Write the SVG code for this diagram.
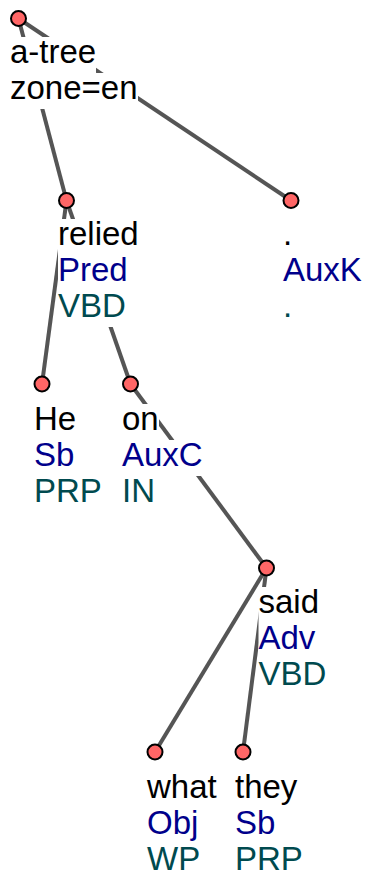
<svg xmlns="http://www.w3.org/2000/svg" width="368" height="878" viewBox="0 0 368 878">
<style>
.e{stroke:#555555;stroke-width:4;fill:none}
.n{fill:#ff6666;stroke:#000;stroke-width:2}
.bg{fill:#fff;stroke:none}
text{font-family:"Liberation Sans",Arial,sans-serif;font-size:33px}
.f{fill:#000}
.a{fill:#00008b}
.t{fill:#004a4f}
</style>
<rect width="368" height="878" fill="#fff"/>
<g id="connectors">
<line class="e" x1="18.5" y1="18.5" x2="66.5" y2="200.5"/>
<line class="e" x1="18.5" y1="18.5" x2="291" y2="200.5"/>
<line class="e" x1="66.5" y1="200.5" x2="42" y2="384"/>
<line class="e" x1="66.5" y1="200.5" x2="130.5" y2="384"/>
<line class="e" x1="130.5" y1="384" x2="266.5" y2="568"/>
<line class="e" x1="266.5" y1="568" x2="155" y2="752"/>
<line class="e" x1="266.5" y1="568" x2="243" y2="752"/>
</g>
<g id="n-root">
<rect class="bg" x="10" y="37" width="86" height="36"/>
<rect class="bg" x="10" y="73" width="128" height="36"/>
<text x="10" y="63" class="f">a-tree</text>
<text x="10" y="99" class="f">zone=en</text>
<circle class="n" cx="18.5" cy="18.5" r="7.5"/>
</g>
<g id="n-relied">
<rect class="bg" x="58" y="219" width="81" height="36"/>
<rect class="bg" x="58" y="255" width="70" height="36"/>
<rect class="bg" x="58" y="291" width="68" height="36"/>
<text x="58" y="245" class="f">relied</text>
<text x="58" y="281" class="a">Pred</text>
<text x="58" y="317" class="t">VBD</text>
<circle class="n" cx="66.5" cy="200.5" r="7.5"/>
</g>
<g id="n-dot">
<rect class="bg" x="283" y="219" width="9" height="36"/>
<rect class="bg" x="283" y="255" width="79" height="36"/>
<rect class="bg" x="283" y="291" width="9" height="36"/>
<text x="283" y="245" class="f">.</text>
<text x="283" y="281" class="a">AuxK</text>
<text x="283" y="317" class="t">.</text>
<circle class="n" cx="291" cy="200.5" r="7.5"/>
</g>
<g id="n-he">
<rect class="bg" x="34" y="404" width="42" height="36"/>
<rect class="bg" x="34" y="440" width="40" height="36"/>
<rect class="bg" x="34" y="476" width="68" height="36"/>
<text x="34" y="430" class="f">He</text>
<text x="34" y="466" class="a">Sb</text>
<text x="34" y="502" class="t">PRP</text>
<circle class="n" cx="42" cy="384" r="7.5"/>
</g>
<g id="n-on">
<rect class="bg" x="122" y="404" width="37" height="36"/>
<rect class="bg" x="122" y="440" width="81" height="36"/>
<rect class="bg" x="122" y="476" width="33" height="36"/>
<text x="122" y="430" class="f">on</text>
<text x="122" y="466" class="a">AuxC</text>
<text x="122" y="502" class="t">IN</text>
<circle class="n" cx="130.5" cy="384" r="7.5"/>
</g>
<g id="n-said">
<rect class="bg" x="258.5" y="587" width="61" height="36"/>
<rect class="bg" x="258.5" y="623" width="57" height="36"/>
<rect class="bg" x="258.5" y="659" width="68" height="36"/>
<text x="258.5" y="613" class="f">said</text>
<text x="258.5" y="649" class="a">Adv</text>
<text x="258.5" y="685" class="t">VBD</text>
<circle class="n" cx="266.5" cy="568" r="7.5"/>
</g>
<g id="n-what">
<rect class="bg" x="147" y="772" width="70" height="36"/>
<rect class="bg" x="147" y="808" width="51" height="36"/>
<rect class="bg" x="147" y="844" width="53" height="34"/>
<text x="147" y="798" class="f">what</text>
<text x="147" y="834" class="a">Obj</text>
<text x="147" y="870" class="t">WP</text>
<circle class="n" cx="155" cy="752" r="7.5"/>
</g>
<g id="n-they">
<rect class="bg" x="235" y="772" width="62" height="36"/>
<rect class="bg" x="235" y="808" width="40" height="36"/>
<rect class="bg" x="235" y="844" width="68" height="34"/>
<text x="235" y="798" class="f">they</text>
<text x="235" y="834" class="a">Sb</text>
<text x="235" y="870" class="t">PRP</text>
<circle class="n" cx="243" cy="752" r="7.5"/>
</g>
</svg>
